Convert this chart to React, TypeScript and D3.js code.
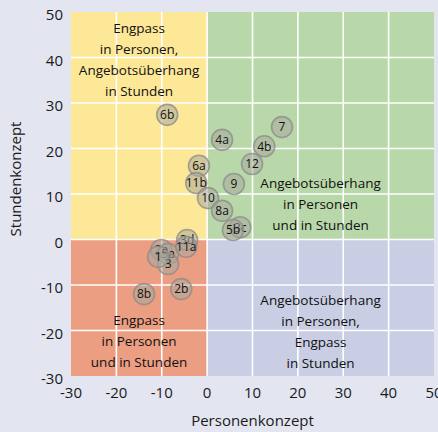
import React from "react";
import * as d3 from "d3";

const labels = ["6b", "7", "4a", "4b", "12", "6a", "11b", "9", "10", "8a", "3c", "5b", "2a", "5a", "3", "1", "3d", "11a", "2b", "8b"];
const xs = [-8.8, 16.5, 3.3, 12.6, 9.9, -1.8, -2.4, 5.9, 0.2, 3.3, 7.3, 5.7, -10.1, -8.6, -8.6, -10.8, -4.4, -4.6, -5.7, -13.9];
const ys = [27.4, 24.7, 21.9, 20.5, 16.6, 16.2, 12.4, 12.2, 9.1, 6.3, 2.7, 2.1, -2.3, -3.2, -5.4, -3.8, -0.1, -1.6, -10.9, -12.0];

const xTicks = [-30, -20, -10, 0, 10, 20, 30, 40, 50];
const yTicks = [-30, -20, -10, 0, 10, 20, 30, 40, 50];

const quadrantTexts = [
  { lines: ["Engpass", "in Personen,", "Angebotsüberhang", "in Stunden"], q: "tl" },
  { lines: ["Angebotsüberhang", "in Personen", "und in Stunden"], q: "tr" },
  { lines: ["Angebotsüberhang", "in Personen,", "Engpass", "in Stunden"], q: "br" },
  { lines: ["Engpass", "in Personen", "und in Stunden"], q: "bl" },
];

const W = 438;
const H = 432;
const font = "'Open Sans', sans-serif";

export default function App() {
  const x = d3.scaleLinear().domain([-30, 50]).range([71, 434]);
  const y = d3.scaleLinear().domain([-30, 50]).range([376, 12]);
  const x0 = x(0), y0 = y(0);
  const quads = [
    { x1: x(-30), x2: x0, y1: y(50), y2: y0, c: "#fde898" },
    { x1: x0, x2: x(50), y1: y(50), y2: y0, c: "#b9d8a9" },
    { x1: x(-30), x2: x0, y1: y0, y2: y(-30), c: "#ec9e82" },
    { x1: x0, x2: x(50), y1: y0, y2: y(-30), c: "#c9cee4" },
  ];
  const textPos: Record<string, { cx: number; top: number }> = {
    tl: { cx: (x(-30) + x0) / 2, top: 33 },
    tr: { cx: (x0 + x(50)) / 2, top: 188 },
    br: { cx: (x0 + x(50)) / 2, top: 305 },
    bl: { cx: (x(-30) + x0) / 2, top: 325 },
  };
  return (
    <svg width={W} height={H} style={{ position: "absolute", left: 0, top: 0 }} fontFamily={font}>
      <rect x={0} y={0} width={W} height={H} fill="#e3e5f1" />
      {quads.map((q, i) => (
        <rect key={i} x={q.x1} y={q.y1} width={q.x2 - q.x1} height={q.y2 - q.y1} fill={q.c} />
      ))}
      {xTicks.slice(1, -1).map((t) => (
        <line key={"gx" + t} x1={x(t)} x2={x(t)} y1={y(50)} y2={y(-30)} stroke="#fff" strokeWidth={1.6} />
      ))}
      {yTicks.slice(1, -1).map((t) => (
        <line key={"gy" + t} x1={x(-30)} x2={x(50)} y1={y(t)} y2={y(t)} stroke="#fff" strokeWidth={1.6} />
      ))}
      {quadrantTexts.map((qt) => {
        const p = textPos[qt.q];
        return (
          <text key={qt.q} textAnchor="middle" fontSize={13.5} fill="#111">
            {qt.lines.map((l, i) => (
              <tspan key={i} x={p.cx} y={p.top + i * 21}>{l}</tspan>
            ))}
          </text>
        );
      })}
      {labels.map((l, i) => (
        <g key={l} transform={`translate(${x(xs[i])},${y(ys[i])})`}>
          <circle r={10.5} fill="#a9a89f" fillOpacity={0.55} stroke="#8a8a8a" strokeOpacity={0.75} strokeWidth={1.6} />
          <text textAnchor="middle" dy="0.36em" fontSize={12} fill="#111">{l}</text>
        </g>
      ))}
      {yTicks.map((t) => (
        <text key={"ty" + t} x={63} y={y(t) + 3} dy="0.35em" textAnchor="end" fontSize={15} fill="#1a1a1a">{t}</text>
      ))}
      {xTicks.map((t) => (
        <text key={"tx" + t} x={x(t)} y={398} textAnchor="middle" fontSize={15} fill="#1a1a1a">{t}</text>
      ))}
      <text x={(x(-30) + x(50)) / 2} y={426} textAnchor="middle" fontSize={15} fill="#1a1a1a">Personenkonzept</text>
      <text transform={`translate(21,179) rotate(-90)`} textAnchor="middle" fontSize={15} fill="#1a1a1a">Stundenkonzept</text>
    </svg>
  );
}
